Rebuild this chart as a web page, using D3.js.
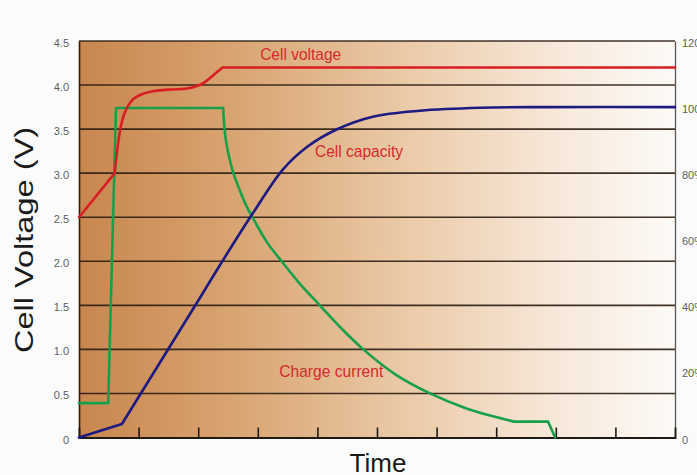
<!DOCTYPE html>
<html>
<head>
<meta charset="utf-8">
<script src="https://cdn.jsdelivr.net/npm/d3@7"></script>
<style>
  html, body { margin: 0; padding: 0; background: #fbfbfb; }
  svg { display: block; }
</style>
</head>
<body>
<svg id="chart" width="697" height="475"></svg>
<script>
// ---- data ----
const timeTicks = [1, 2, 3, 4, 5, 6, 7, 8, 9];
const voltageTicks = [0, 0.5, 1.0, 1.5, 2.0, 2.5, 3.0, 3.5, 4.0, 4.5];
const voltageTickLabels = ["0", "0.5", "1.0", "1.5", "2.0", "2.5", "3.0", "3.5", "4.0", "4.5"];
const percentTicks = [0, 20, 40, 60, 80, 100, 120];
const percentTickLabels = ["0", "20%", "40%", "60%", "80%", "100%", "120%"];

// Cell voltage (V) over time
const voltageTime = [0, 0.6, 0.63, 0.69, 0.77, 0.91, 1.07, 1.24, 1.53, 1.81, 1.98, 2.08, 2.2, 2.32, 2.41, 10];
const voltageValues = [2.5, 3.0, 3.19, 3.49, 3.69, 3.84, 3.90, 3.93, 3.95, 3.96, 3.99, 4.02, 4.08, 4.15, 4.2, 4.2];
const voltageBreaks = [1, 14];

// Cell capacity (%) over time
const capacityTime = [0, 0.72, 2.03, 2.4, 2.9, 3.42, 3.83, 4.33, 4.93, 5.72, 6.73, 7.85, 10];
const capacityValues = [0, 4.1, 42.3, 53.2, 67.4, 81.1, 88.0, 93.3, 97.1, 98.9, 99.8, 100, 100];
const capacityBreaks = [1];

// Charge current (plotted in left-axis units)
const currentTime = [0, 0.49, 0.62, 2.42, 2.43, 2.47, 2.53, 2.59, 2.70, 2.80, 2.91, 3.15, 3.40, 3.70, 4.04, 4.40, 4.77, 5.30, 5.89, 6.50, 7.06, 7.30, 7.87, 7.99];
const currentValues = [0.39, 0.39, 3.74, 3.74, 3.60, 3.35, 3.15, 3.00, 2.80, 2.64, 2.50, 2.22, 2.00, 1.75, 1.50, 1.24, 1.00, 0.72, 0.50, 0.33, 0.22, 0.18, 0.18, 0.0];
const currentBreaks = [1, 2, 3, 21, 22];

// ---- layout ----
const svg = d3.select("#chart");
const L = 79, R = 675, T = 41, B = 437.5;

const x = d3.scaleLinear().domain([0, 10]).range([L, R]);
const yV = d3.scaleLinear().domain([0, 4.5]).range([B, T]);
const yP = d3.scaleLinear().domain([0, 120]).range([B, T]);

// background gradient
const defs = svg.append("defs");
const grad = defs.append("linearGradient").attr("id", "bg").attr("x1", "0").attr("x2", "1").attr("y1", "0").attr("y2", "0");
grad.append("stop").attr("offset", "0%").attr("stop-color", "#c8864e");
grad.append("stop").attr("offset", "25%").attr("stop-color", "#d8a370");
grad.append("stop").attr("offset", "55%").attr("stop-color", "#ebcaa8");
grad.append("stop").attr("offset", "80%").attr("stop-color", "#f7e8da");
grad.append("stop").attr("offset", "100%").attr("stop-color", "#fdfaf7");

svg.append("rect").attr("x", x(0)).attr("y", yV(4.5)).attr("width", x(10) - x(0)).attr("height", yV(0) - yV(4.5)).attr("fill", "url(#bg)");

// horizontal grid lines
svg.append("g").selectAll("line").data(voltageTicks.filter(d => d > 0)).join("line")
  .attr("x1", x(0)).attr("x2", x(10))
  .attr("y1", d => yV(d)).attr("y2", d => yV(d))
  .attr("stroke", "#2b1d12").attr("stroke-width", 1.6).attr("stroke-opacity", 0.9);

// left axis
const leftAxis = d3.axisLeft(yV).tickValues(voltageTicks).tickSize(0).tickPadding(10)
  .tickFormat((d, i) => voltageTickLabels[i]);
const gl = svg.append("g").attr("transform", `translate(${x(0)},0)`).call(leftAxis);
gl.select(".domain").attr("stroke", "#2b1d12").attr("stroke-width", 1.6);
gl.selectAll("text").attr("font-family", "Liberation Sans, Arial, sans-serif").attr("font-size", 11).attr("fill", "#5e5e5e").attr("dy", "0.5em");

// right axis
const rightAxis = d3.axisRight(yP).tickValues(percentTicks).tickSize(0).tickPadding(7)
  .tickFormat((d, i) => percentTickLabels[i]);
const gr = svg.append("g").attr("transform", `translate(${x(10)},0)`).call(rightAxis);
gr.select(".domain").attr("stroke", "#555").attr("stroke-width", 1.3);
gr.selectAll("text").attr("font-family", "Liberation Sans, Arial, sans-serif").attr("font-size", 11).attr("fill", "#5e5e5e").attr("dy", "0.5em");

// bottom axis (ticks inside)
const bottomAxis = d3.axisBottom(x).tickValues(timeTicks).tickSize(-10).tickFormat("");
const gb = svg.append("g").attr("transform", `translate(0,${B})`).call(bottomAxis);
gb.select(".domain").attr("stroke", "#1f1a16").attr("stroke-width", 1.8);
gb.selectAll(".tick line").attr("stroke", "#1f1a16").attr("stroke-width", 1.6);

// curves: smooth pieces between sharp corners (break indices)
function piecewisePath(ts, vs, yScale, breaks) {
  const idx = [0, ...breaks, ts.length - 1];
  const gen = d3.line().x(d => x(d[0])).y(d => yScale(d[1])).curve(d3.curveCatmullRom.alpha(0.5));
  let out = "";
  for (let k = 0; k < idx.length - 1; k++) {
    const pts = [];
    for (let i = idx[k]; i <= idx[k + 1]; i++) pts.push([ts[i], vs[i]]);
    out += gen(pts);
  }
  return out;
}

const styleLine = (sel, color) => sel.attr("fill", "none").attr("stroke", color).attr("stroke-width", 2.6)
  .attr("stroke-linejoin", "round").attr("stroke-linecap", "round");

styleLine(svg.append("path").attr("d", piecewisePath(currentTime, currentValues, yV, currentBreaks)), "#17a04a");
styleLine(svg.append("path").attr("d", piecewisePath(capacityTime, capacityValues, yP, capacityBreaks)), "#1d1a82");
styleLine(svg.append("path").attr("d", piecewisePath(voltageTime, voltageValues, yV, voltageBreaks)), "#d81e22");

// series labels
const labels = [
  { text: "Cell voltage", t: 3.04, v: 4.28, w: 81 },
  { text: "Cell capacity", t: 3.96, v: 3.18, w: 88 },
  { text: "Charge current", t: 3.36, v: 0.684, w: 104 }
];
svg.append("g").selectAll("text").data(labels).join("text")
  .attr("x", d => x(d.t)).attr("y", d => yV(d.v))
  .attr("textLength", d => d.w).attr("lengthAdjust", "spacingAndGlyphs")
  .attr("font-family", "Liberation Sans, Arial, sans-serif").attr("font-size", 17)
  .attr("fill", "#d42a2a").text(d => d.text);

// axis titles
svg.append("text")
  .attr("transform", `translate(33,240) rotate(-90)`)
  .attr("text-anchor", "middle")
  .attr("textLength", 226).attr("lengthAdjust", "spacingAndGlyphs")
  .attr("font-family", "Liberation Sans, Arial, sans-serif").attr("font-size", 25)
  .attr("fill", "#1a1a1a").text("Cell Voltage (V)");

svg.append("text")
  .attr("x", 378).attr("y", 472)
  .attr("text-anchor", "middle")
  .attr("font-family", "Liberation Sans, Arial, sans-serif").attr("font-size", 26)
  .attr("fill", "#1a1a1a").text("Time");
</script>
</body>
</html>
